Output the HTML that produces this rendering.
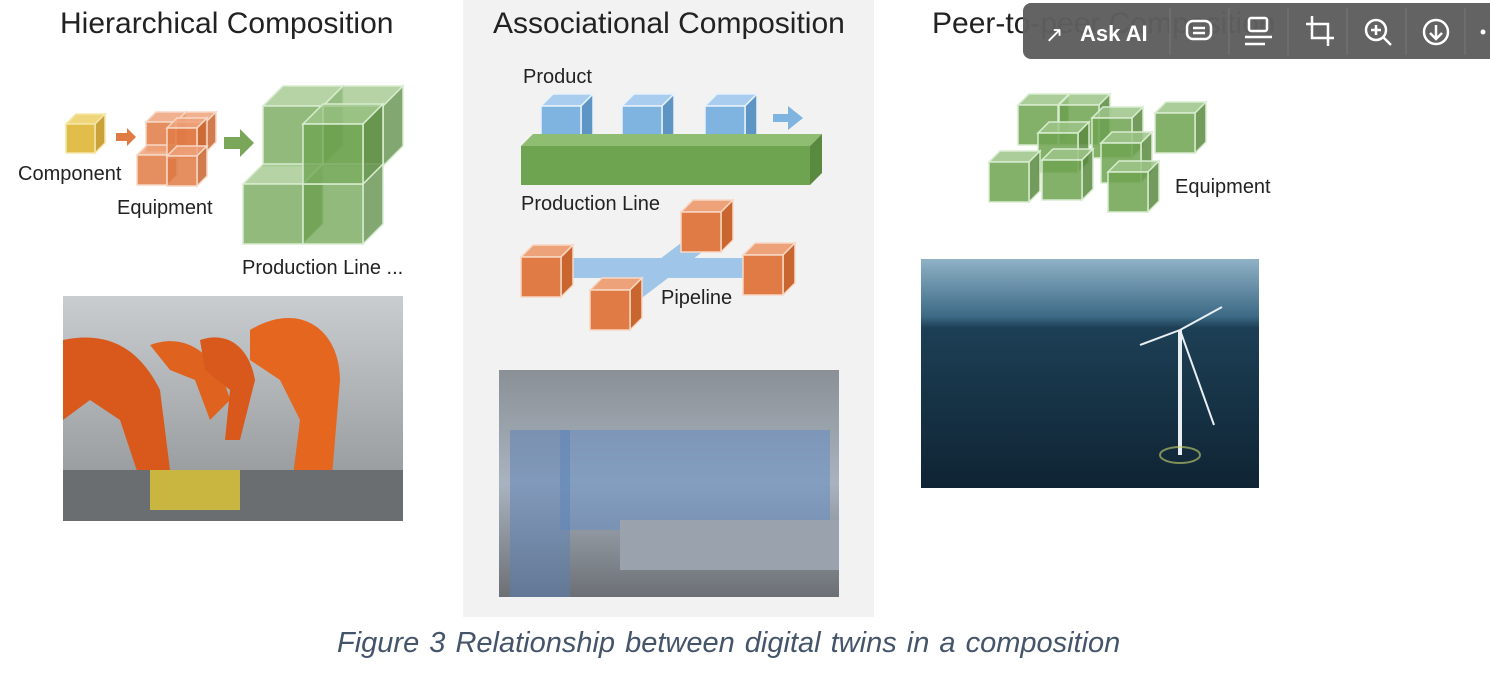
<!DOCTYPE html>
<html><head><meta charset="utf-8"><style>
body{margin:0;width:1490px;height:692px;background:#fff;overflow:hidden;font-family:"Liberation Sans",sans-serif}
svg{position:absolute;left:0;top:0}
</style></head><body>
<svg id="s" width="1490" height="692" xmlns="http://www.w3.org/2000/svg">
<rect x="463" y="0" width="411" height="617" fill="#f2f2f2"/>
<text x="60" y="33" font-size="30" fill="#222">Hierarchical Composition</text>
<text x="493" y="33" font-size="30" fill="#222">Associational Composition</text>
<text x="932" y="33" font-size="30" fill="#222">Peer-to-peer Composition</text>
<g id="cubes"></g>
<polygon points="116,133 127,133 127,128 136,137 127,146 127,141 116,141" fill="#e07b45"/>
<polygon points="224,137 240,137 240,129 254,143 240,157 240,149 224,149" fill="#7aa65a"/>
<polygon points="773,114 788,114 788,106 803,118 788,130 788,122 773,122" fill="#7fb3e0"/>
<line x1="560" y1="268" x2="745" y2="268" stroke="#9fc6e8" stroke-width="20"/>
<line x1="612" y1="308" x2="712" y2="232" stroke="#9fc6e8" stroke-width="20"/>
<g id="cubes2"></g>
<text x="18" y="180" font-size="20" fill="#222">Component</text>
<text x="117" y="214" font-size="20" fill="#222">Equipment</text>
<text x="242" y="274" font-size="20" fill="#222">Production Line ...</text>
<text x="523" y="83" font-size="20" fill="#222">Product</text>
<text x="521" y="210" font-size="20" fill="#222">Production Line</text>
<text x="661" y="304" font-size="20" fill="#222">Pipeline</text>
<text x="1175" y="193" font-size="20" fill="#222">Equipment</text>
<defs>
<linearGradient id="g1" x1="0" y1="0" x2="0" y2="1"><stop offset="0" stop-color="#c9cdd0"/><stop offset="1" stop-color="#8d9194"/></linearGradient>
<linearGradient id="g2" x1="0" y1="0" x2="0" y2="1"><stop offset="0" stop-color="#8a9096"/><stop offset=".5" stop-color="#a9b3bf"/><stop offset="1" stop-color="#6c7075"/></linearGradient>
<linearGradient id="g3" x1="0" y1="0" x2="0" y2="1"><stop offset="0" stop-color="#8fb2c6"/><stop offset=".25" stop-color="#3d6a86"/><stop offset=".3" stop-color="#1d3f55"/><stop offset="1" stop-color="#0f2434"/></linearGradient>
</defs>
<rect x="63" y="296" width="340" height="225" fill="url(#g1)"/>
<path d="M63,340 C110,330 140,350 160,390 L170,470 L140,480 L120,420 L90,400 L63,420Z" fill="#d9581c"/>
<path d="M150,345 C190,330 220,360 230,400 L210,420 L195,380 L170,370Z" fill="#e0621f"/>
<path d="M250,330 C300,300 340,330 340,380 L330,500 L290,500 L300,420 L280,380 L250,360Z" fill="#e5661f"/>
<path d="M200,340 C230,330 250,350 255,380 L240,440 L225,440 L230,390 L205,370Z" fill="#d9581c"/>
<rect x="63" y="470" width="340" height="51" fill="#6b6e70"/>
<rect x="150" y="470" width="90" height="40" fill="#c9b640"/>
<rect x="499" y="370" width="340" height="227" fill="url(#g2)"/>
<rect x="560" y="430" width="270" height="100" fill="#6a8fc0" opacity=".6"/>
<rect x="510" y="430" width="60" height="167" fill="#5a7fb5" opacity=".5"/>
<rect x="620" y="520" width="219" height="50" fill="#9aa3ad"/>
<rect x="921" y="259" width="338" height="229" fill="url(#g3)"/>
<line x1="1180" y1="330" x2="1180" y2="455" stroke="#e8eef2" stroke-width="4"/>
<line x1="1180" y1="330" x2="1222" y2="307" stroke="#e8eef2" stroke-width="2"/>
<line x1="1180" y1="330" x2="1140" y2="345" stroke="#e8eef2" stroke-width="2"/>
<line x1="1180" y1="330" x2="1214" y2="425" stroke="#e8eef2" stroke-width="2"/>
<ellipse cx="1180" cy="455" rx="20" ry="8" fill="none" stroke="#c9d36a" stroke-width="2" opacity=".6"/>
<text x="337" y="652" font-size="29" font-style="italic" fill="#44546a" word-spacing="2">Figure 3  Relationship between digital twins in a composition</text>
<rect x="1023" y="3" width="480" height="56" rx="8" fill="#5e5e5e" opacity=".97"/>
<text x="1080" y="41" font-size="22" font-weight="bold" fill="#fff">Ask AI</text>
<text x="1045" y="42" font-size="22" fill="#fff">↗</text>
<g stroke="#777" stroke-width="1"><line x1="1170" y1="8" x2="1170" y2="55"/><line x1="1229" y1="8" x2="1229" y2="55"/><line x1="1288" y1="8" x2="1288" y2="55"/><line x1="1347" y1="8" x2="1347" y2="55"/><line x1="1406" y1="8" x2="1406" y2="55"/><line x1="1465" y1="8" x2="1465" y2="55"/></g>
<g fill="none" stroke="#fff" stroke-width="2.5">
<rect x="1187" y="21" width="24" height="18" rx="6"/><line x1="1193" y1="28" x2="1205" y2="28"/><line x1="1193" y1="33" x2="1205" y2="33"/>
<rect x="1249" y="18" width="18" height="13" rx="2"/><line x1="1245" y1="37" x2="1272" y2="37"/><line x1="1245" y1="44" x2="1265" y2="44"/>
<path d="M1312,16 V38 H1334 M1306,24 H1328 V46"/>
<circle cx="1376" cy="30" r="10"/><line x1="1383" y1="37" x2="1391" y2="45"/><line x1="1371" y1="30" x2="1381" y2="30"/><line x1="1376" y1="25" x2="1376" y2="35"/>
<circle cx="1436" cy="32" r="12"/><path d="M1436,25 V39 M1430,33 L1436,39 L1442,33"/>
</g>
<circle cx="1483" cy="32" r="2.5" fill="#fff"/>
</svg>
<script>
function cube(g,x,y,s,d,f,op,st){
 var front=f[0],top=f[1],side=f[2];
 var h='';
 h+='<polygon points="'+x+','+y+' '+(x+d)+','+(y-d)+' '+(x+s+d)+','+(y-d)+' '+(x+s)+','+y+'" fill="'+top+'" fill-opacity="'+op+'" stroke="'+st+'" stroke-width="1.5"/>';
 h+='<polygon points="'+(x+s)+','+y+' '+(x+s+d)+','+(y-d)+' '+(x+s+d)+','+(y+s-d)+' '+(x+s)+','+(y+s)+'" fill="'+side+'" fill-opacity="'+op+'" stroke="'+st+'" stroke-width="1.5"/>';
 h+='<rect x="'+x+'" y="'+y+'" width="'+s+'" height="'+s+'" fill="'+front+'" fill-opacity="'+op+'" stroke="'+st+'" stroke-width="1.5"/>';
 g.innerHTML+=h;
}
var Y=['#e3bd4a','#f0d67a','#c9a23a'],O=['#e07b45','#eea27a','#c9652f'],G=['#6ea350','#9cc487','#5a8a40'],B=['#7fb3e0','#a9cdee','#5f95c4'];
var c=document.getElementById('cubes'),c2=document.getElementById('cubes2');
cube(c,66,124,29,10,Y,1,'#f5e7a8');
cube(c,146,122,30,10,O,.85,'#f7d8c5');cube(c,176,122,30,10,O,.85,'#f7d8c5');
cube(c,137,155,30,10,O,.85,'#f7d8c5');
cube(c,167,128,30,10,O,.85,'#f7d8c5');
cube(c,167,156,30,10,O,.85,'#f7d8c5');
cube(c,263,106,60,20,G,.75,'#d8ecd0');cube(c,323,106,60,20,G,.75,'#d8ecd0');
cube(c,243,184,60,20,G,.75,'#d8ecd0');cube(c,303,184,60,20,G,.75,'#d8ecd0');
cube(c,303,124,60,20,G,.75,'#d8ecd0');
cube(c,541,106,40,12,B,1,'#e8f2fa');cube(c,622,106,40,12,B,1,'#e8f2fa');cube(c,705,106,40,12,B,1,'#e8f2fa');
c.innerHTML+='<polygon points="521,146 533,134 822,134 810,146" fill="#8fbe72"/><polygon points="810,146 822,134 822,173 810,185" fill="#5a8a40"/><rect x="521" y="146" width="289" height="39" fill="#6ea350"/>';
cube(c2,521,257,40,12,O,1,'#f7d8c5');cube(c2,681,212,40,12,O,1,'#f7d8c5');
cube(c2,743,255,40,12,O,1,'#f7d8c5');cube(c2,590,290,40,12,O,1,'#f7d8c5');
var P=[[1018,105],[1059,105],[1155,113],[1092,118],[1038,133],[1101,143],[989,162],[1042,160],[1108,172]];
P.forEach(function(p){cube(c2,p[0],p[1],40,11,G,.85,'#d8ecd0');});
</script>
</body></html>
